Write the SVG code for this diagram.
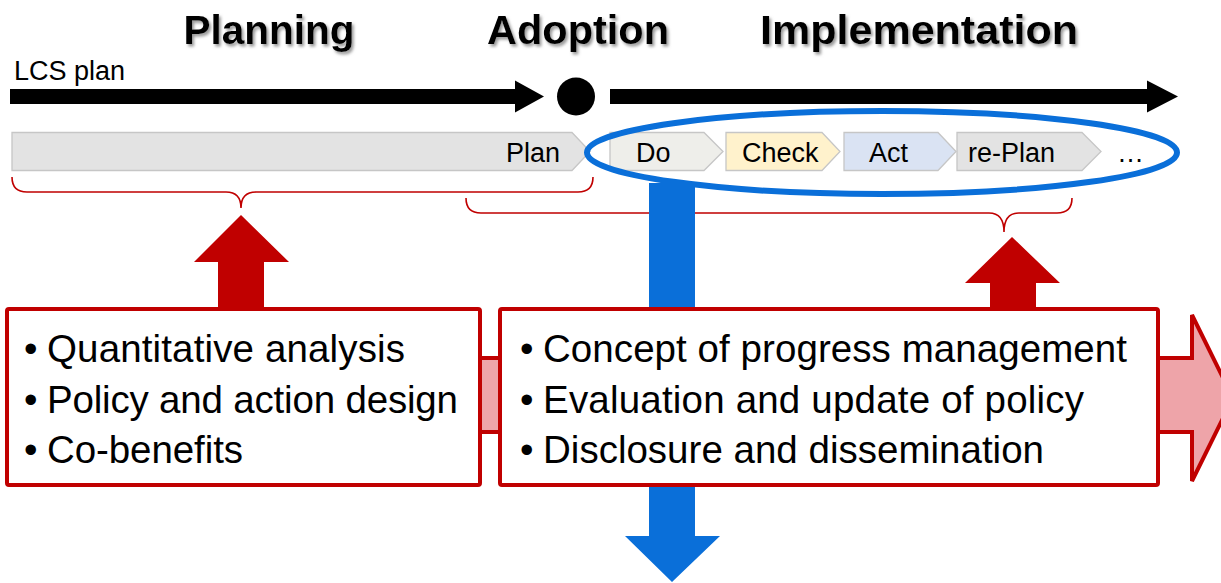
<svg xmlns="http://www.w3.org/2000/svg" width="1221" height="583" viewBox="0 0 1221 583">
<style>
.title{font-family:"Liberation Sans",Arial,sans-serif;font-weight:bold;font-size:41px;fill:#000;text-anchor:middle}
.lbl{font-family:"Liberation Sans",Arial,sans-serif;font-size:27px;fill:#000}
.chev{font-family:"Liberation Sans",Arial,sans-serif;font-size:27px;fill:#000}
.body{font-family:"Liberation Sans",Arial,sans-serif;font-size:38.5px;fill:#000}
.box{fill:#fff;stroke:#c00000;stroke-width:4}
.brace{fill:none;stroke:#c00000;stroke-width:1.6}
.red{fill:#c00000}
.blue{fill:#0a6fd9}
.cstroke{stroke:#c6c6c6;stroke-width:1.3}
</style>
<defs>
<filter id="sh" x="-10%" y="-20%" width="130%" height="160%">
<feDropShadow dx="2" dy="2.5" stdDeviation="1.5" flood-color="#777" flood-opacity="0.75"/>
</filter>
</defs>
<rect width="1221" height="583" fill="#fff"/>

<g id="titles" filter="url(#sh)">
<text class="title" x="269" y="44" textLength="171" lengthAdjust="spacingAndGlyphs">Planning</text>
<text class="title" x="578" y="44" textLength="182" lengthAdjust="spacingAndGlyphs">Adoption</text>
<text class="title" x="919" y="44" textLength="318" lengthAdjust="spacingAndGlyphs">Implementation</text>
</g>

<g id="timeline">
<text class="lbl" x="14" y="80">LCS plan</text>
<polygon points="10,89 515,89 515,80.5 544,96.5 515,112.5 515,104 10,104" fill="#000"/>
<circle cx="576" cy="96.5" r="19" fill="#000"/>
<polygon points="610,89 1147,89 1147,80.5 1178,96.5 1147,112.5 1147,104 610,104" fill="#000"/>
</g>

<g id="node-plan">
<polygon class="cstroke" points="12,132.5 572,132.5 590,151.5 572,170.5 12,170.5" fill="#e3e3e3"/>
<text class="chev" x="560" y="162" text-anchor="end">Plan</text>
</g>
<g id="node-do">
<polygon class="cstroke" points="610,132.5 704,132.5 723,151.5 704,170.5 610,170.5" fill="#eeeeea"/>
<text class="chev" x="636" y="162">Do</text>
</g>
<g id="node-check">
<polygon class="cstroke" points="726,132.5 822,132.5 840,151.5 822,170.5 726,170.5" fill="#fff2cc"/>
<text class="chev" x="742" y="162">Check</text>
</g>
<g id="node-act">
<polygon class="cstroke" points="844,132.5 938,132.5 956,151.5 938,170.5 844,170.5" fill="#dae3f3"/>
<text class="chev" x="869" y="162">Act</text>
</g>
<g id="node-replan">
<polygon class="cstroke" points="957,132.5 1082,132.5 1101,151.5 1082,170.5 957,170.5" fill="#e3e3e3"/>
<text class="chev" x="968" y="162">re-Plan</text>
</g>
<g id="node-more">
<text class="chev" x="1117" y="162">…</text>
</g>

<g id="connectors">
<ellipse id="pdca-ring" cx="882" cy="152.5" rx="295" ry="41.5" fill="none" stroke="#0a6fd9" stroke-width="6"/>
<path class="brace" d="M12,177 Q12,192 27,192 L226,192 Q241,192 241,208 Q241,192 256,192 L578,192 Q593,192 593,177"/>
<path class="brace" d="M466,198 Q466,213 481,213 L989,213 Q1004,213 1004,232 Q1004,213 1019,213 L1057,213 Q1072,213 1072,198"/>
<polygon class="blue" points="649,183 695,183 695,536 720,536 672,582 625,536 649,536"/>
<polygon points="300,358 1192,358 1192,315 1233,398 1192,481 1192,432 300,432" fill="#eea4a9" stroke="#c00000" stroke-width="4"/>
<polygon class="red" points="241,215 289,262 264,262 264,312 218,312 218,262 194,262"/>
<polygon class="red" points="1012,237 1060,283 1036,283 1036,312 990,312 990,283 965,283"/>
</g>

<g id="box-planning">
<rect class="box" x="7" y="309" width="473" height="176" rx="2"/>
<text class="body" y="362"><tspan x="24">•</tspan><tspan x="47" textLength="358">Quantitative analysis</tspan></text>
<text class="body" y="413"><tspan x="24">•</tspan><tspan x="47" textLength="411">Policy and action design</tspan></text>
<text class="body" y="463"><tspan x="24">•</tspan><tspan x="47" textLength="196">Co-benefits</tspan></text>
</g>

<g id="box-implementation">
<rect class="box" x="500" y="309" width="658" height="176" rx="2"/>
<text class="body" y="362"><tspan x="520">•</tspan><tspan x="543" textLength="584">Concept of progress management</tspan></text>
<text class="body" y="413"><tspan x="520">•</tspan><tspan x="543" textLength="541">Evaluation and update of policy</tspan></text>
<text class="body" y="463"><tspan x="520">•</tspan><tspan x="543" textLength="501">Disclosure and dissemination</tspan></text>
</g>
</svg>
